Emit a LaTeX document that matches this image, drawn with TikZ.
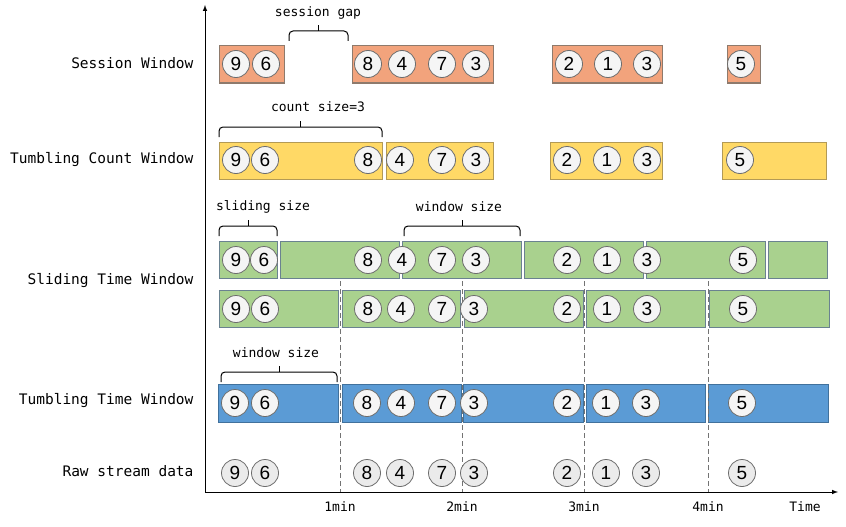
\documentclass[tikz,border=0pt]{standalone}
\usepackage{fontspec}
\usepackage{tikz}
\newfontfamily\monofont{DejaVu Sans Mono}
\newfontfamily\digitfont{Liberation Sans}
\definecolor{sessfill}{HTML}{F2A37C}
\definecolor{sessline}{HTML}{8E7A6C}
\definecolor{countfill}{HTML}{FFD966}
\definecolor{countline}{HTML}{B39A55}
\definecolor{slidefill}{HTML}{A9D18E}
\definecolor{slideline}{HTML}{6A8290}
\definecolor{tumbfill}{HTML}{5B9BD5}
\definecolor{tumbline}{HTML}{41719C}
\tikzstyle{ev}=[circle, draw=gray!85!black, fill=gray!8, line width=0.8pt, minimum size=27pt, inner sep=0pt, font=\digitfont\fontsize{19}{19}\selectfont]
\tikzstyle{rowlabel}=[anchor=east, font=\monofont\fontsize{14.5}{15}\selectfont]
\tikzstyle{note}=[font=\monofont\fontsize{13}{13}\selectfont]
\tikzstyle{brk}=[line width=1pt, rounded corners=4pt]
\tikzstyle{sess}=[draw=sessline, fill=sessfill, line width=1pt]
\tikzstyle{cnt}=[draw=countline, fill=countfill, line width=1pt]
\tikzstyle{sld}=[draw=slideline, fill=slidefill, line width=1pt]
\tikzstyle{tmb}=[draw=tumbline, fill=tumbfill, line width=1pt]
\tikzstyle{tick}=[draw=gray!90!black, dash pattern=on 5pt off 3pt, line width=1pt]
% bracket: left x, middle x, right x, bottom y
\newcommand{\bracket}[4]{%
  \draw[brk] (#1,#4) -- (#1,#4-10) -- (#3,#4-10) -- (#3,#4);
  \draw[line width=1pt] (#2,#4-10) -- (#2,#4-16);
}

\begin{document}
\begin{tikzpicture}[x=1pt, y=-1pt]
  \useasboundingbox (0,0) rectangle (846,527);
  % axes
  \coordinate (O) at (205,492);
  \coordinate (ytop) at (205,5);
  \coordinate (xend) at (838,492);
  \draw[-latex, line width=1pt] (O) -- (ytop);
  \draw[-latex, line width=1pt] (O) -- (xend);

  % row labels
  \node[rowlabel] (lsess) at (197,63) {Session Window};
  \node[rowlabel] (lcnt) at (197,160) {Tumbling Count Window};
  \node[rowlabel] (lsld) at (197,281) {Sliding Time Window};
  \node[rowlabel] (ltmb) at (197,401) {Tumbling Time Window};
  \node[rowlabel] (lraw) at (197,471) {Raw stream data};

  % window boxes
  \foreach \a/\b in {219/284, 352/493, 552/662, 727/760}
    \draw[sess] (\a,46) rectangle (\b,83);
  \foreach \a/\b in {219/382, 386/493, 550/662, 722/826}
    \draw[cnt] (\a,142) rectangle (\b,179);
  \foreach \a/\b in {219/277, 280/399, 402/521, 524/643, 646/765, 768/827}
    \draw[sld] (\a,241) rectangle (\b,278);
  \foreach \a/\b in {219/338, 342/460, 464/583, 586/705, 709/829}
    \draw[sld] (\a,290) rectangle (\b,327);
  \foreach \a/\b in {218/338, 342/461, 463/583, 586/705, 708/828}
    \draw[tmb] (\a,384) rectangle (\b,422);

  % minute marks
  \foreach \x/\t [count=\k] in {340/1min, 462/2min, 584/3min, 708/4min} {
    \coordinate (m\k) at (\x,281);
    \coordinate (n\k) at (\x,492);
    \draw[tick] (m\k) -- (n\k);
    \node[note] (t\k) at (\x,507) {\t};
  }
  \node[note] (ttime) at (805,507) {Time};

  % events
  \foreach \v/\x [count=\k] in {9/236, 6/266, 8/368, 4/402, 7/442, 3/476, 2/569, 1/608, 3/647, 5/741}
    \node[ev] (s\k) at (\x,64) {\v};
  \foreach \v/\x [count=\k] in {9/236, 6/265, 8/368, 4/400, 7/442, 3/476, 2/567, 1/607, 3/647, 5/740}
    \node[ev] (c\k) at (\x,160) {\v};
  \foreach \v/\x [count=\k] in {9/236, 6/264, 8/368, 4/402, 7/442, 3/476, 2/567, 1/607, 3/647, 5/743}
    \node[ev] (a\k) at (\x,260) {\v};
  \foreach \v/\x [count=\k] in {9/236, 6/265, 8/368, 4/401, 7/442, 3/474, 2/567, 1/607, 3/647, 5/743}
    \node[ev] (b\k) at (\x,309) {\v};
  \foreach \v/\x [count=\k] in {9/235, 6/265, 8/367, 4/401, 7/442, 3/474, 2/567, 1/606, 3/646, 5/742}
    \node[ev] (w\k) at (\x,403) {\v};
  \foreach \v/\x [count=\k] in {9/235, 6/265, 8/367, 4/400, 7/442, 3/474, 2/567, 1/606, 3/646, 5/742}
    \node[ev, fill=gray!16] (r\k) at (\x,473) {\v};

  % braces
  \bracket{289}{318}{348}{41}
  \node[note] (gap) at (318,13) {session gap};
  \bracket{219}{300}{382}{137}
  \node[note] (csize) at (318,107) {count size=3};
  \bracket{219}{248}{277}{236}
  \node[note] (ssize) at (263,207) {sliding size};
  \bracket{404}{462}{520}{236}
  \node[note] (wsize1) at (459,207) {window size};
  \bracket{221}{279}{337}{382}
  \node[note] (wsize2) at (276,353) {window size};
\end{tikzpicture}
\end{document}
